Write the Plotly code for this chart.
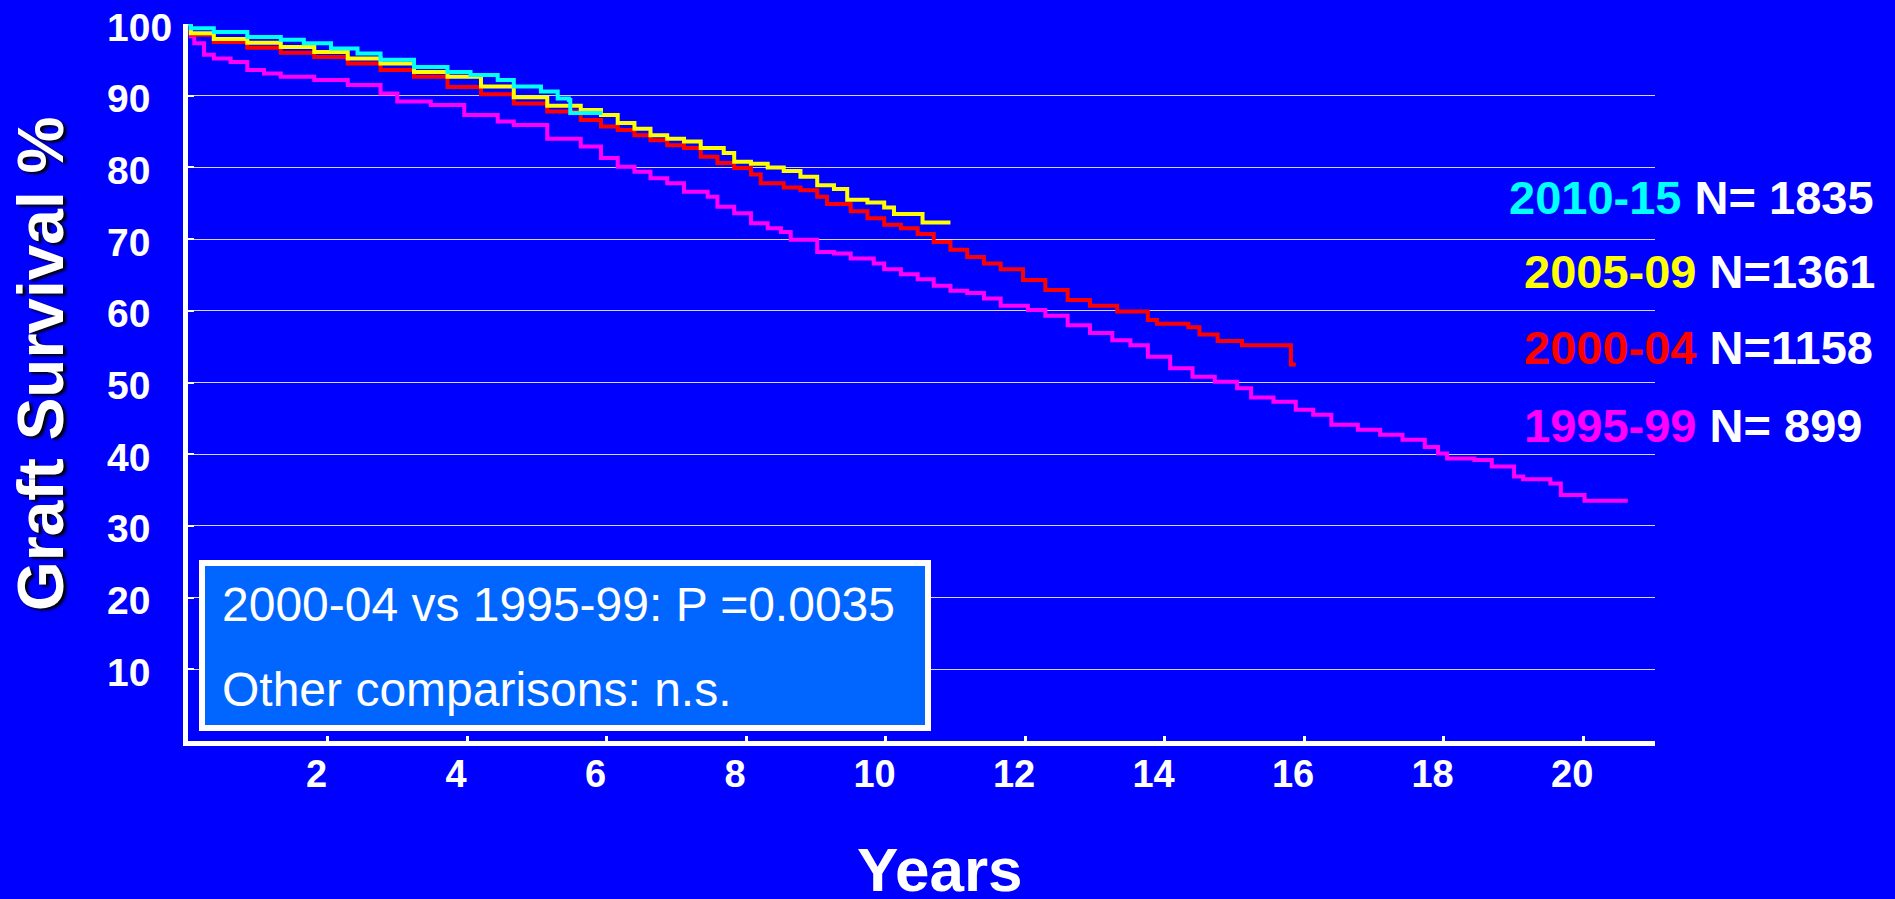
import plotly.graph_objects as go

# ---------------- data ----------------
t_2010 = [0, 0.04, 0.37, 0.85, 1.33, 1.66, 2.05, 2.43, 2.76, 3.24, 3.72, 4.05, 4.44, 4.67,
          5.06, 5.30, 5.46, 5.48, 5.94]
s_2010 = [100, 99.4, 98.9, 98.2, 97.8, 97.3, 96.6, 95.9, 95.0, 94.0, 93.3, 92.9, 92.2, 91.3,
          90.6, 89.6, 89.4, 87.6, 87.6]

t_2005 = [0, 0.04, 0.37, 0.85, 1.33, 1.81, 2.29, 2.76, 3.24, 3.72, 4.20, 4.67, 5.15, 5.63,
          5.92, 6.16, 6.40, 6.63, 6.87, 7.11, 7.35, 7.68, 7.83, 8.07, 8.31, 8.54, 8.78, 9.02,
          9.26, 9.45, 9.74, 9.98, 10.12, 10.53, 10.93]
s_2005 = [100, 98.7, 97.9, 97.4, 96.8, 96.1, 95.2, 94.5, 93.3, 92.65, 91.3, 89.8, 88.6, 88.0,
          87.3, 86.2, 85.4, 84.5, 84.0, 83.6, 82.7, 82.0, 80.8, 80.5, 80.0, 79.5, 78.7, 77.5,
          77.0, 75.5, 75.1, 74.4, 73.5, 72.3, 72.3]

t_2000 = [0, 0.04, 0.37, 0.85, 1.33, 1.81, 2.29, 2.76, 3.24, 3.72, 4.20, 4.67, 5.15, 5.63,
          5.92, 6.16, 6.40, 6.63, 6.87, 7.11, 7.35, 7.59, 7.83, 8.07, 8.21, 8.54, 8.78, 9.02,
          9.16, 9.50, 9.74, 9.98, 10.22, 10.46, 10.69, 10.93, 11.17, 11.41, 11.65, 11.97,
          12.29, 12.61, 12.93, 13.32, 13.76, 13.89, 14.34, 14.50, 14.76, 15.11, 15.81, 15.88]
s_2000 = [100, 98.5, 97.5, 96.7, 96.0, 95.4, 94.5, 93.6, 92.65, 91.2, 90.2, 88.9, 87.8, 86.6,
          85.7, 85.2, 84.5, 83.8, 83.1, 82.7, 81.5, 80.6, 79.9, 79.0, 77.8, 77.2, 76.8, 75.9,
          74.9, 73.9, 72.9, 72.0, 71.5, 70.7, 69.6, 68.5, 67.5, 66.6, 65.8, 64.3,
          62.9, 61.5, 60.7, 59.9, 58.7, 58.2, 57.7, 56.7, 55.8, 55.2, 52.5, 52.5]

t_1995 = [0, 0.04, 0.09, 0.23, 0.37, 0.61, 0.85, 1.09, 1.33, 1.81, 2.29, 2.76, 3.00, 3.48,
          3.96, 4.44, 4.67, 5.15, 5.63, 5.92, 6.16, 6.40, 6.63, 6.87, 7.11, 7.45, 7.59, 7.83,
          8.07, 8.31, 8.50, 8.64, 9.02, 9.26, 9.50, 9.83, 9.98, 10.22, 10.46, 10.69, 10.93,
          11.17, 11.41, 11.65, 12.04, 12.29, 12.61, 12.93, 13.25, 13.51, 13.76, 14.08, 14.40,
          14.72, 15.04, 15.24, 15.56, 15.88, 16.13, 16.39, 16.77, 17.09, 17.41, 17.73, 17.92,
          18.05, 18.44, 18.69, 19.01, 19.14, 19.53, 19.68, 20.02, 20.64]
s_1995 = [100, 98.3, 97.3, 95.7, 95.2, 94.7, 93.6, 93.1, 92.65, 92.2, 91.5, 90.3, 89.2, 88.7,
          87.3, 86.4, 85.9, 84.0, 82.9, 81.3, 80.1, 79.4, 78.5, 77.8, 76.6, 75.9, 74.5, 73.6,
          72.2, 71.5, 71.0, 69.9, 68.2, 68.0, 67.3, 66.6, 65.8, 65.1, 64.4, 63.5, 62.8,
          62.5, 61.7, 60.7, 60.1, 59.3, 58.0, 56.9, 55.9, 55.2, 53.6, 52.0, 50.8,
          50.1, 49.2, 47.9, 47.3, 46.2, 45.5, 44.1, 43.4, 42.7, 42.0, 41.0, 40.1,
          39.4, 39.2, 38.3, 36.9, 36.5, 35.9, 34.3, 33.5, 33.5]

cohort_labels = ["2010-15", "2005-09", "2000-04", "1995-99"]
cohort_n = ["N= 1835", "N=1361", "N=1158", "N= 899"]
x_tick_vals = [2, 4, 6, 8, 10, 12, 14, 16, 18, 20]
y_tick_vals = [10, 20, 30, 40, 50, 60, 70, 80, 90, 100]
box_lines = ["2000-04 vs 1995-99: P =0.0035", "Other comparisons: n.s."]

# ---------------- styling ----------------
FONT = "Liberation Sans, Arial, Helvetica, sans-serif"
BG = "#0000ff"
COL = {"2010-15": "#00ffff", "2005-09": "#ffff00", "2000-04": "#ff0000", "1995-99": "#ff00ff"}

W, H = 1895, 899
L, R, T, B = 188, 1655, 24, 741   # plot-area pixel edges


def pxx(p):
    return (p - L) / (R - L)


def pxy(p):
    return (B - p) / (B - T)


fig = go.Figure()
series = [("1995-99", t_1995, s_1995), ("2000-04", t_2000, s_2000),
          ("2005-09", t_2005, s_2005), ("2010-15", t_2010, s_2010)]
for name, t, s in series:
    fig.add_trace(go.Scatter(x=t, y=s, mode="lines", name=name,
                             line=dict(color=COL[name], width=4, shape="hv"),
                             showlegend=False, hoverinfo="skip"))

fig.update_layout(
    width=W, height=H,
    margin=dict(l=L, r=W - R, t=T, b=H - B, pad=0, autoexpand=False),
    paper_bgcolor=BG, plot_bgcolor=BG,
    showlegend=False,
    xaxis=dict(range=[0, 21.03], tickvals=x_tick_vals, ticktext=[str(v) for v in x_tick_vals],
               automargin=False,
               showgrid=False, zeroline=False, showline=True, linecolor="white", linewidth=5,
               ticks="inside", ticklen=5, tickwidth=3, tickcolor="white",
               ticklabelshift=-11, ticklabelstandoff=-5,
               tickfont=dict(family=FONT, size=38, color="white", weight="bold")),
    yaxis=dict(range=[0, 100], tickvals=y_tick_vals, showticklabels=False,
               automargin=False,
               showgrid=True, gridcolor="rgba(235,235,255,0.9)", gridwidth=1,
               zeroline=False, showline=True, linecolor="white", linewidth=5,
               ticks="inside", ticklen=6, tickwidth=2, tickcolor="white"),
)

# y tick labels: left-aligned column as in the reference
for v in y_tick_vals:
    fig.add_annotation(xref="paper", yref="y", x=pxx(105), y=v, yshift=-3,
                       xanchor="left", yanchor="middle", showarrow=False, text=str(v),
                       font=dict(family=FONT, size=39, color="white", weight="bold"))

# statistics box
fig.add_shape(type="rect", xref="paper", yref="paper",
              x0=pxx(202), x1=pxx(928), y0=pxy(728), y1=pxy(563),
              line=dict(color="white", width=6), fillcolor="#0066ff", layer="above")
for line_text, ycen in zip(box_lines, [604, 689]):
    fig.add_annotation(xref="paper", yref="paper", x=pxx(220), y=pxy(ycen),
                       xanchor="left", yanchor="middle", showarrow=False, text=line_text,
                       font=dict(family=FONT, size=48, color="white"))

# cohort labels on the right
legend_x = [1507, 1522, 1522, 1522]
legend_y = [198, 271, 348, 425]
for lab, n, lx, ly in zip(cohort_labels, cohort_n, legend_x, legend_y):
    fig.add_annotation(xref="paper", yref="paper", x=pxx(lx), y=pxy(ly),
                       xanchor="left", yanchor="middle", showarrow=False,
                       text=f'<span style="color:{COL[lab]}">{lab}</span> {n}',
                       font=dict(family=FONT, size=47, color="white", weight="bold"))

# axis titles
fig.add_annotation(xref="paper", yref="paper", x=pxx(41), y=pxy(364),
                   xanchor="center", yanchor="middle", showarrow=False, textangle=-90,
                   text="Graft Survival %",
                   font=dict(family=FONT, size=64, color="white", weight="bold",
                             shadow="-2px 3px 3px #000000"))
fig.add_annotation(xref="paper", yref="paper", x=pxx(940), y=pxy(869),
                   xanchor="center", yanchor="middle", showarrow=False,
                   text="Years",
                   font=dict(family=FONT, size=62, color="white", weight="bold"))

fig.write_html("out.html", config={"displayModeBar": False},
               post_script="document.body.style.margin='0';")
